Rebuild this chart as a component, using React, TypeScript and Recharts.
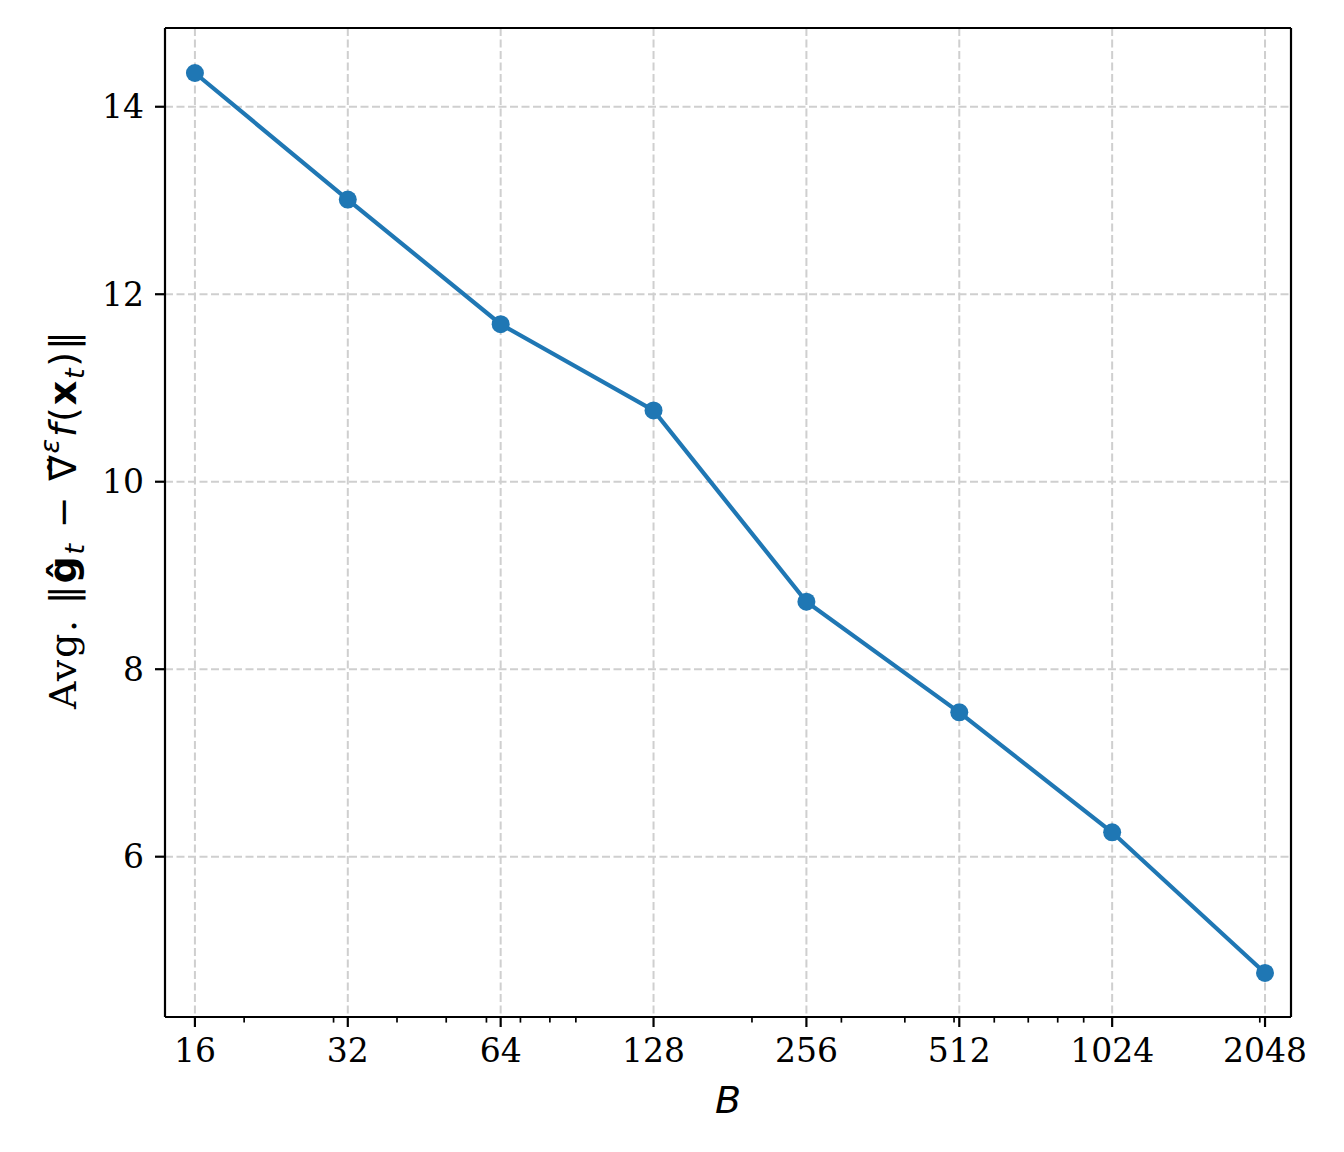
import React from "react";
import { LineChart, Line, XAxis, YAxis, CartesianGrid, ReferenceLine } from "recharts";

// batch size B (log axis) vs average gradient-estimate error
const batchSizes = [16, 32, 64, 128, 256, 512, 1024, 2048];
const avgErrorNorm = [14.36, 13.01, 11.68, 10.76, 8.72, 7.54, 6.26, 4.76];
const yTicks = [6, 8, 10, 12, 14];
const minorXTicks = [20, 30, 40, 50, 60, 70, 80, 90, 200, 300, 400, 500, 600, 700, 800, 900, 2000];
const xDomain = [13.97, 2304];
const yDomain = [4.29, 14.84];

const data = batchSizes.map((b, i) => ({ b, err: avgErrorNorm[i] }));
const allXTicks = [...batchSizes, ...minorXTicks].sort((a, b) => a - b);

const SERIF = "'DejaVu Serif', serif";
const SANS = "'DejaVu Sans', sans-serif";
const BLUE = "#1f77b4";
const GRID = "#cfcfcf";

function XTick(props: any) {
  const { x, y, payload } = props;
  const v = payload.value;
  const major = batchSizes.includes(v);
  return (
    <g>
      <line
        x1={x}
        x2={x}
        y1={y}
        y2={y + (major ? 10 : 5.6)}
        stroke="#000"
        strokeWidth={major ? 2.2 : 1.7}
      />
      {major && (
        <text x={x} y={y + 45} textAnchor="middle" fontFamily={SERIF} fontSize={33} fill="#000">
          {v}
        </text>
      )}
    </g>
  );
}

function XLabel(props: any) {
  const vb = props.viewBox || { x: 0, y: 0, width: 0, height: 0 };
  return (
    <text
      x={vb.x + vb.width / 2}
      y={vb.y + 96}
      textAnchor="middle"
      fontFamily={SANS}
      fontStyle="italic"
      fontSize={38}
      fill="#000"
    >
      B
    </text>
  );
}

function YLabel(props: any) {
  const vb = props.viewBox || { x: 0, y: 0, width: 0, height: 0 };
  const cx = vb.x + 68;
  const cy = vb.y + vb.height / 2 - 2.5;
  const F = 38;
  const S = 27;
  return (
    <text
      x={cx}
      y={cy}
      transform={`rotate(-90 ${cx} ${cy})`}
      textAnchor="middle"
      textLength={378}
      lengthAdjust="spacing"
      fontSize={F}
      fill="#000"
      fontFamily={SANS}
    >
      <tspan fontFamily={SERIF}>Avg. </tspan>
      <tspan>‖</tspan>
      <tspan fontWeight="bold">ĝ</tspan>
      <tspan fontStyle="italic" fontSize={S} dy={8}>t</tspan>
      <tspan dy={-8}> − ∇̃</tspan>
      <tspan fontStyle="italic" fontSize={S} dy={-17}>ε</tspan>
      <tspan fontStyle="italic" dy={17}>f</tspan>
      <tspan>(</tspan>
      <tspan fontWeight="bold">x</tspan>
      <tspan fontStyle="italic" fontSize={S} dy={8}>t</tspan>
      <tspan dy={-8}>)‖</tspan>
    </text>
  );
}

export default function App() {
  return (
    <div style={{ width: 1328, height: 1136, background: "#fff" }}>
      <LineChart
        width={1328}
        height={1136}
        data={data}
        margin={{ top: 20, right: 45, bottom: 67, left: 0 }}
      >
        <CartesianGrid
          stroke={GRID}
          strokeWidth={2}
          strokeDasharray="8 3.5"
          verticalValues={batchSizes}
          horizontalValues={yTicks}
        />
        <XAxis
          dataKey="b"
          type="number"
          scale="log"
          domain={xDomain}
          allowDataOverflow
          ticks={allXTicks}
          interval={0}
          tick={<XTick />}
          tickLine={false}
          tickSize={0}
          tickMargin={0}
          height={60}
          axisLine={{ stroke: "#000", strokeWidth: 2.2 }}
          label={<XLabel />}
        />
        <YAxis
          type="number"
          domain={yDomain}
          allowDataOverflow
          ticks={yTicks}
          interval={0}
          width={157}
          tickSize={10}
          tickMargin={11}
          tickLine={{ stroke: "#000", strokeWidth: 2.2 }}
          axisLine={{ stroke: "#000", strokeWidth: 2.2 }}
          tick={{ fontFamily: SERIF, fontSize: 33, fill: "#000" }}
          label={<YLabel />}
        />
        {/* top and right spines */}
        <ReferenceLine y={yDomain[1]} stroke="#000" strokeWidth={2.2} ifOverflow="visible" />
        <ReferenceLine x={xDomain[1]} stroke="#000" strokeWidth={2.2} ifOverflow="visible" />
        <Line
          dataKey="err"
          stroke={BLUE}
          strokeWidth={4.2}
          dot={{ r: 9, fill: BLUE, stroke: BLUE, strokeWidth: 0 }}
          activeDot={false}
          isAnimationActive={false}
        />
      </LineChart>
    </div>
  );
}
